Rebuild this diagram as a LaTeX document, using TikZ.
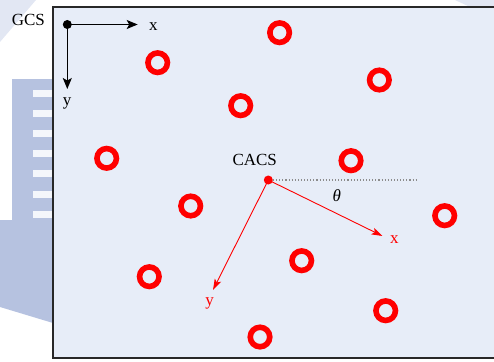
\documentclass[tikz,border=0pt]{standalone}
\usepackage{fontspec}
\setmainfont{Liberation Serif}
\usetikzlibrary{arrows.meta}
\definecolor{boxfill}{RGB}{231,237,248}
\definecolor{wm}{RGB}{182,194,224}
\definecolor{wmlight}{RGB}{226,231,243}
\definecolor{wmstripe}{RGB}{244,246,251}
\definecolor{boxline}{RGB}{40,40,40}
\definecolor{dotgray}{RGB}{140,140,140}
\tikzset{
  ring/.style={circle, draw=red, line width=5.6pt, minimum size=19.5pt, inner sep=0pt},
  blackdot/.style={circle, fill=black, minimum size=9pt, inner sep=0pt},
  reddot/.style={circle, fill=red, minimum size=9pt, inner sep=0pt},
  lbl/.style={inner sep=0pt, font=\fontsize{17}{20}\selectfont},
  redlbl/.style={lbl, text=red},
  blackarr/.style={line width=1.2pt, -{Stealth[length=11pt,width=9pt,inset=2.5pt]}},
  redarr/.style={draw=red, line width=0.9pt, -{Stealth[length=11pt,width=7pt,inset=2.5pt]}, red},
}
\begin{document}
\begin{tikzpicture}[x=1pt,y=-1pt]
\useasboundingbox (0,0) rectangle (494,361);
\begin{scope}
\clip (0,0) rectangle (494,361);
% faint watermark behind the frame
\fill[wmlight] (0,0) -- (36,0) -- (0,42) -- cycle;
\fill[wmlight] (455,0) -- (494,0) -- (494,7) -- (470,7) -- cycle;
\fill[wm] (12,79) rectangle (53,220);
\foreach \yy in {90,110,130,150,170,191,211}
  \fill[wmstripe] (33,\yy) rectangle (53,\yy+7);
\fill[wm] (0,220) -- (53,220) -- (53,323) -- (0,307) -- cycle;
% frame
\filldraw[fill=boxfill, draw=boxline, line width=1.2pt] (53,7) rectangle (510,358);
\end{scope}

% GCS axes
\node[lbl] (gcs) at (28.3,19.8) {GCS};
\node[blackdot] (g) at (67.3,24.5) {};
\coordinate (gx) at (137.7,24.5);
\coordinate (gy) at (67.3,89);
\draw[blackarr] (g.center) -- (gx);
\draw[blackarr] (g.center) -- (gy);
\node[lbl] (gxl) at (153.3,26.5) {x};
\node[lbl] (gyl) at (67,103) {y};

% circles
\node[ring] (c1) at (279.6,32.7) {};
\node[ring] (c2) at (157.7,62.7) {};
\node[ring] (c3) at (379.3,80) {};
\node[ring] (c4) at (240.7,105.7) {};
\node[ring] (c5) at (106.7,158.3) {};
\node[ring] (c6) at (351,160.7) {};
\node[ring] (c7) at (190.7,206) {};
\node[ring] (c8) at (444.7,215.7) {};
\node[ring] (c9) at (301.7,260.7) {};
\node[ring] (c10) at (149.3,276.7) {};
\node[ring] (c11) at (385.7,310.7) {};
\node[ring] (c12) at (260,337) {};

% CACS
\node[lbl] (cacs) at (254.7,160) {CACS};
\node[reddot] (c) at (268.3,180) {};
\coordinate (ref) at (418,180);
\draw[dotgray, line width=1.1pt, dotted] (c) -- (ref);
\coordinate (cx) at (382.5,236);
\coordinate (cy) at (213,290);
\draw[redarr] (c.center) -- (cx);
\draw[redarr] (c.center) -- (cy);
\node[redlbl] (cxl) at (394.3,239.5) {x};
\node[redlbl] (cyl) at (209.5,303) {y};
\node[lbl] (th) at (336.7,196) {\itshape θ};
\end{tikzpicture}
\end{document}
